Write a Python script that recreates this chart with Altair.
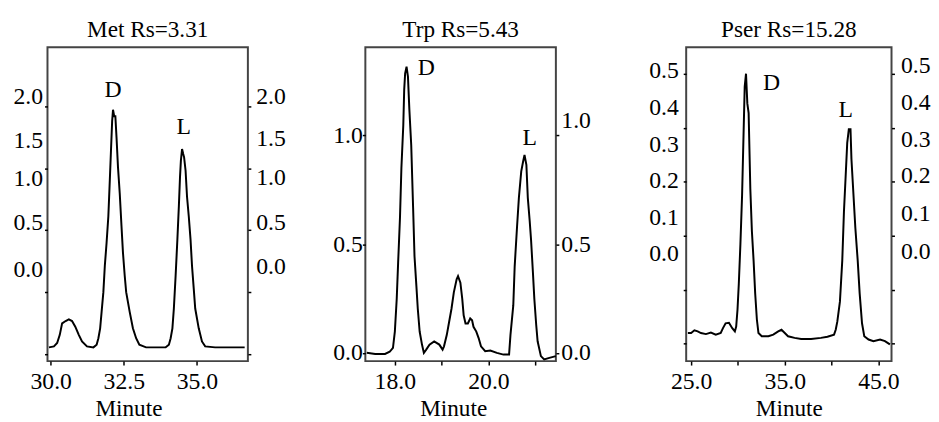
import altair as alt
import pandas as pd

FONT = "Liberation Serif"

# ---------------- data ----------------
met_t = [29.94, 30.11, 30.22, 30.31, 30.39, 30.51, 30.62, 30.73, 30.84, 30.96, 31.07, 31.24,
         31.46, 31.57, 31.63, 31.69, 31.74, 31.80, 31.85, 31.91, 31.97, 32.02, 32.06, 32.10,
         32.13, 32.17, 32.21, 32.25, 32.30, 32.36, 32.42, 32.47, 32.53, 32.58, 32.70, 32.81,
         32.92, 33.03, 33.26, 33.93, 34.04, 34.10, 34.16, 34.21, 34.27, 34.33, 34.38, 34.42,
         34.45, 34.49, 34.53, 34.56, 34.61, 34.66, 34.72, 34.78, 34.83, 34.89, 34.94, 35.06,
         35.17, 35.28, 35.62, 36.63]
met_v = [0.053, 0.061, 0.088, 0.154, 0.247, 0.266, 0.279, 0.266, 0.220, 0.154, 0.101, 0.061,
         0.053, 0.074, 0.127, 0.207, 0.340, 0.499, 0.712, 0.898, 1.110, 1.402, 1.641, 1.880,
         1.973, 1.920, 1.920, 1.748, 1.509, 1.296, 1.031, 0.818, 0.632, 0.499, 0.340, 0.207,
         0.127, 0.074, 0.053, 0.053, 0.074, 0.127, 0.207, 0.367, 0.632, 0.924, 1.190, 1.429,
         1.562, 1.655, 1.615, 1.588, 1.482, 1.270, 1.110, 0.924, 0.712, 0.526, 0.367, 0.207,
         0.101, 0.061, 0.053, 0.053]

trp_t = [17.40, 17.58, 17.79, 17.89, 17.96, 18.00, 18.04, 18.07, 18.11, 18.14, 18.18, 18.20,
         18.22, 18.25, 18.28, 18.31, 18.35, 18.39, 18.42, 18.46, 18.49, 18.53, 18.58, 18.62,
         18.67, 18.74, 18.84, 18.95, 19.02, 19.05, 19.11, 19.16, 19.21, 19.26, 19.32, 19.35,
         19.40, 19.44, 19.47, 19.51, 19.56, 19.61, 19.65, 19.68, 19.74, 19.79, 19.84, 19.93,
         20.04, 20.18, 20.32, 20.44, 20.47, 20.53, 20.56, 20.61, 20.65, 20.70, 20.74, 20.77,
         20.81, 20.84, 20.88, 20.91, 20.95, 20.98, 21.02, 21.05, 21.12, 21.19, 21.30, 21.44]
trp_v = [0.000, -0.005, -0.005, 0.005, 0.023, 0.098, 0.248, 0.414, 0.624, 0.850, 1.045, 1.211,
         1.286, 1.316, 1.271, 1.120, 0.955, 0.669, 0.444, 0.308, 0.203, 0.098, 0.038, 0.000,
         0.015, 0.038, 0.053, 0.038, 0.015, 0.030, 0.083, 0.143, 0.203, 0.278, 0.338, 0.353,
         0.323, 0.248, 0.173, 0.135, 0.135, 0.158, 0.150, 0.120, 0.098, 0.068, 0.030, 0.008,
         0.011, 0.000, -0.008, -0.008, 0.083, 0.218, 0.398, 0.579, 0.714, 0.835, 0.880, 0.910,
         0.865, 0.714, 0.609, 0.519, 0.368, 0.248, 0.128, 0.053, -0.015, -0.030, -0.023, -0.015]

pser_t = [24.65, 25.00, 25.35, 25.70, 26.05, 26.58, 27.11, 27.63, 28.16, 28.40, 28.68, 29.04,
          29.39, 29.67, 29.81, 29.95, 30.09, 30.26, 30.44, 30.61, 30.72, 30.86, 31.00, 31.14,
          31.32, 31.49, 31.67, 31.84, 32.02, 32.19, 32.54, 33.25, 33.77, 34.30, 34.65, 35.00,
          35.35, 36.05, 36.75, 37.81, 38.86, 39.56, 40.26, 40.44, 40.61, 40.89, 41.14, 41.32,
          41.49, 41.67, 41.84, 42.02, 42.12, 42.30, 42.54, 42.79, 43.00, 43.25, 43.49, 43.95,
          44.47, 45.18, 45.70, 46.23]
pser_v = [0.020, 0.020, 0.025, 0.023, 0.020, 0.018, 0.021, 0.017, 0.020, 0.029, 0.038, 0.039,
          0.029, 0.023, 0.032, 0.063, 0.111, 0.184, 0.275, 0.397, 0.476, 0.500, 0.445, 0.427,
          0.287, 0.208, 0.154, 0.093, 0.045, 0.020, 0.014, 0.014, 0.017, 0.023, 0.026, 0.020,
          0.014, 0.011, 0.009, 0.009, 0.011, 0.013, 0.017, 0.026, 0.041, 0.078, 0.154, 0.245,
          0.306, 0.372, 0.397, 0.397, 0.342, 0.287, 0.214, 0.154, 0.093, 0.038, 0.014, 0.008,
          0.005, 0.008, 0.005, -0.001]

panel_titles = ["Met Rs=3.31", "Trp Rs=5.43", "Pser Rs=15.28"]
peak_names = ["D", "L"]
met_peak_t, met_peak_v = [32.13, 34.55], [2.13, 1.83]
trp_peak_t, trp_peak_v = [18.67, 20.88], [1.31, 0.99]
pser_peak_t, pser_peak_v = [33.6, 41.5], [0.482, 0.433]

met_xticks, met_xlabels = [30.0, 32.5, 35.0], [30.0, 32.5, 35.0]
trp_xticks, trp_xlabels = [18.0, 19.0, 20.0, 21.0], [18.0, 20.0]
pser_xticks, pser_xlabels = [25.0, 30.0, 35.0, 40.0, 45.0], [25.0, 35.0, 45.0]

met_yticks = [2.0, 1.5, 1.0, 0.5, 0.0]
trp_yticks = [1.0, 0.5, 0.0]
pser_yticks = [0.5, 0.4, 0.3, 0.2, 0.1, 0.0]


# ---------------- helpers ----------------
def is_one_of(vals):
    return " || ".join(f"abs(datum.value - ({v})) < 0.0001" for v in vals)


def offset_cond(vals, offs):
    return {
        "condition": [{"test": f"abs(datum.value - ({v})) < 0.0001", "value": o}
                      for v, o in zip(vals, offs)],
        "value": 0,
    }


def panel(t, v, pt, pv, title, xdom, ydom, xticks, xlabels, yticks, width,
          left_offs, right_offs, left_pad, right_pad, left_ext, right_ext, title_x):
    df = pd.DataFrame({"t": t, "v": v})
    lab = pd.DataFrame({"t": pt, "v": pv, "s": peak_names})

    x_axis = alt.Axis(
        values=xticks,
        labelExpr=f"({is_one_of(xlabels)}) ? format(datum.value, '.1f') : ''",
        title="Minute",
        titleX=title_x,
        titlePadding=3,
        labelPadding=5,
        tickSize=4,
    )
    X = alt.X("t:Q", scale=alt.Scale(domain=xdom, nice=False, zero=False), axis=x_axis)
    ysc = alt.Scale(domain=ydom, nice=False, zero=False)

    left_axis = alt.Axis(
        orient="left", values=yticks, format=".1f", title=None,
        labelOffset=offset_cond(yticks, left_offs), labelPadding=left_pad,
        minExtent=left_ext, tickSize=3,
    )
    right_axis = alt.Axis(
        orient="right", values=yticks, format=".1f", title=None,
        labelOffset=offset_cond(yticks, right_offs), labelPadding=right_pad,
        minExtent=right_ext, tickSize=3,
    )

    line = alt.Chart(df).mark_line(color="black", strokeWidth=2).encode(
        x=X, y=alt.Y("v:Q", scale=ysc, axis=left_axis))
    text = alt.Chart(lab).mark_text(font=FONT, fontSize=24, color="black").encode(
        x=X, y=alt.Y("v:Q", scale=ysc, axis=None), text="s:N")
    right = alt.Chart(df).mark_line(opacity=0).encode(
        x=X, y=alt.Y("v:Q", scale=ysc, axis=right_axis))

    return alt.layer(line, text, right).resolve_scale(y="independent").properties(
        width=width, height=318,
        title=alt.TitleParams(title, font=FONT, fontSize=23.5, fontWeight="normal",
                              color="black", anchor="middle", offset=6),
    )


p1 = panel(met_t, met_v, met_peak_t, met_peak_v, panel_titles[0],
           [29.89, 36.74], [-0.058, 2.478], met_xticks, met_xlabels, met_yticks, 203,
           [-10, -28, -52, -70, -85], [-10, -30, -53, -70, -88], 2, 5, 39, 58, 82)
p2 = panel(trp_t, trp_v, trp_peak_t, trp_peak_v, panel_titles[1],
           [17.37, 21.44], [-0.038, 1.406], trp_xticks, trp_xlabels, trp_yticks, 193,
           [0, 0, 0], [-15, 0, 0], 0, 2, 59, 65, 89)
p3 = panel(pser_t, pser_v, pser_peak_t, pser_peak_v, panel_titles[2],
           [24.47, 46.40], [-0.032, 0.549], pser_xticks, pser_xlabels, pser_yticks, 208,
           [-3, -20, -38, -56, -73, -91], [-8, -25, -43, -61, -77, -93], 5, 6, 65, 20, 104)

chart = alt.hconcat(p1, p2, p3, spacing=0).properties(
    padding={"left": 0, "right": 0, "top": 6, "bottom": 0}
).configure_view(
    stroke="#444", strokeWidth=2
).configure_axis(
    labelFont=FONT, labelFontSize=24, labelColor="black", labelFlush=False,
    titleFont=FONT, titleFontSize=23.5, titleFontWeight="normal", titleColor="black",
    tickColor="black", tickWidth=1.5, domain=False, grid=False,
)

chart.save("out.html", embed_options={"renderer": "svg", "actions": False})
